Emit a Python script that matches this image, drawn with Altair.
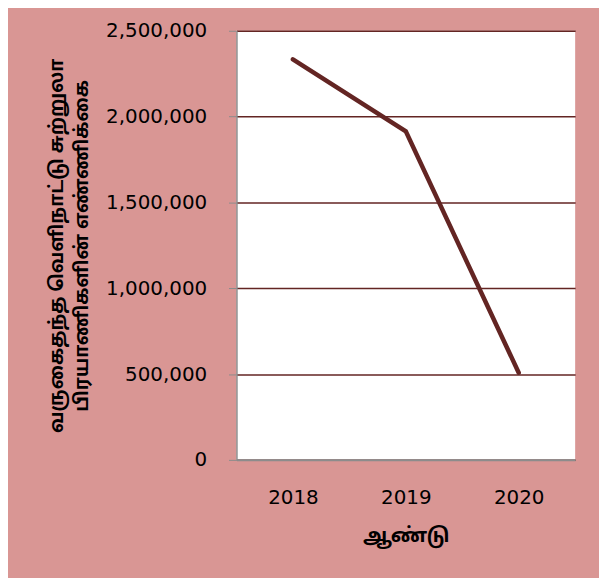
import altair as alt
import pandas as pd

years = ["2018", "2019", "2020"]
arrivals = [2333796, 1913702, 507704]
y_ticks = [0, 500000, 1000000, 1500000, 2000000, 2500000]

df = pd.DataFrame({"year": years, "arrivals": arrivals})

y_title = ["வருகைதந்த வெளிநாட்டு சுற்றுலா", "பிரயாணிகளின் எண்ணிக்கை"]
tamil_font = "'Noto Sans Tamil', 'Noto Sans', sans-serif"

chart = alt.Chart(df).mark_line(
    color="#632523", strokeWidth=4.5, strokeCap="round", strokeJoin="miter"
).encode(
    x=alt.X("year:N", sort=years,
            scale=alt.Scale(type="point", padding=0.5),
            axis=alt.Axis(title="ஆண்டு", labelAngle=0, ticks=False,
                          domainColor="#8c8c8c", domainWidth=2,
                          labelFontSize=20, labelColor="#000000", labelPadding=28,
                          titleFontSize=20, titleFontWeight="bold", titleColor="#000000",
                          titlePadding=18, grid=False,
                          labelFont="DejaVu Sans", titleFont=tamil_font)),
    y=alt.Y("arrivals:Q",
            scale=alt.Scale(domain=[0, 2500000], nice=False),
            axis=alt.Axis(title=y_title, values=y_ticks, format=",d",
                          domainColor="#8c8c8c", domainWidth=1.5,
                          tickColor="#8c8c8c", tickSize=8,
                          labelFontSize=20, labelColor="#000000", labelPadding=22,
                          titleFontSize=19, titleFontWeight="bold", titleColor="#000000",
                          titlePadding=14, titleLineHeight=25,
                          gridColor="#632523", gridWidth=1.5,
                          labelFont="DejaVu Sans", titleFont=tamil_font)),
).properties(
    width=341,
    height=432,
    background="#D99694",
    padding={"left": 230, "top": 21, "right": 24, "bottom": 117},
    autosize=alt.AutoSizeParams(type="none"),
).configure_view(fill="#FFFFFF", stroke=None)

chart.save("out.html", embed_options={"renderer": "svg", "actions": False})
